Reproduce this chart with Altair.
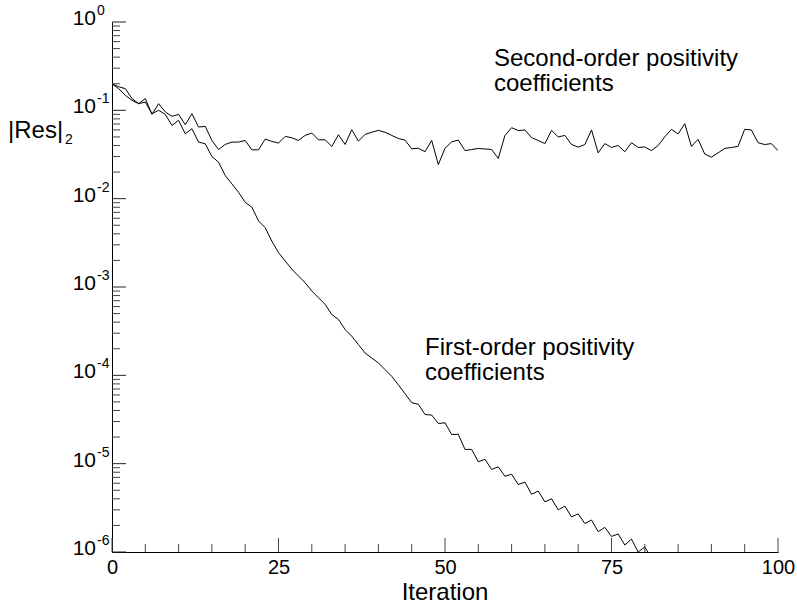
import altair as alt
import pandas as pd

# ---------------- data ----------------
ITER_SECOND = list(range(0, 101))
SECOND_ORDER = [
    0.200, 0.185, 0.176, 0.136, 0.119, 0.136, 0.090, 0.119, 0.096, 0.0855,
    0.090, 0.0687, 0.0916, 0.0647, 0.0658, 0.0456, 0.0360, 0.0411, 0.0437, 0.0437,
    0.0456, 0.0357, 0.0357, 0.0472, 0.0445, 0.0426, 0.0507, 0.0489, 0.0456, 0.0520,
    0.0553, 0.0464, 0.0464, 0.0390, 0.0529, 0.0411, 0.0603, 0.0448, 0.0534, 0.0565,
    0.0593, 0.0565, 0.052, 0.048, 0.046, 0.0367, 0.0372, 0.034, 0.0456, 0.0243,
    0.0372, 0.044, 0.046, 0.035, 0.036, 0.037, 0.0365, 0.036, 0.0285, 0.052,
    0.0636, 0.059, 0.060, 0.049, 0.0456, 0.042, 0.0593, 0.050, 0.052, 0.041,
    0.0383, 0.041, 0.060, 0.033, 0.042, 0.038, 0.040, 0.034, 0.043, 0.038,
    0.0385, 0.035, 0.040, 0.050, 0.061, 0.054, 0.0706, 0.039, 0.047, 0.032,
    0.0295, 0.033, 0.037, 0.038, 0.039, 0.061, 0.060, 0.043, 0.041, 0.042,
    0.035,
]

ITER_FIRST = list(range(0, 82))
FIRST_ORDER = [
    0.200, 0.176, 0.148, 0.130, 0.119, 0.124, 0.0916, 0.100, 0.090, 0.0676,
    0.077, 0.0543, 0.0619, 0.0437, 0.0418, 0.0300, 0.0259, 0.0183, 0.0147, 0.0118,
    0.0091, 0.0080, 0.0056, 0.0047, 0.0033, 0.00245, 0.00197, 0.00159, 0.00133, 0.00112,
    0.00090, 0.000757, 0.000636, 0.000489, 0.000429, 0.000330, 0.000277, 0.000223, 0.000179, 0.000157,
    0.000138, 0.000116, 0.0000975, 0.0000780, 0.0000620, 0.0000490, 0.0000470, 0.0000360, 0.0000355, 0.0000285,
    0.0000290, 0.0000214, 0.0000215, 0.0000145, 0.0000145, 0.0000105, 0.0000112, 0.0000086, 0.0000092, 0.0000072,
    0.0000076, 0.0000058, 0.0000062, 0.0000045, 0.0000049, 0.0000037, 0.0000040, 0.0000030, 0.0000033, 0.0000025,
    0.0000027, 0.0000021, 0.0000023, 0.0000017, 0.0000019, 0.0000015, 0.0000016, 0.0000012, 0.0000014, 0.0000010,
    0.00000114, 0.00000085,
]

X_LABELS = [0, 25, 50, 75, 100]
X_MINOR = [5, 10, 15, 20, 30, 35, 40, 45, 55, 60, 65, 70, 80, 85, 90, 95]
Y_EXPONENTS = [0, -1, -2, -3, -4, -5, -6]
Y_MINOR_MULT = [2, 3, 4, 5, 6, 7, 8, 9]

SECOND_LABEL = ["Second-order positivity", "coefficients"]
FIRST_LABEL = ["First-order positivity", "coefficients"]
X_TITLE = "Iteration"
Y_TITLE = "|Res|"
Y_TITLE_SUB = "2"

# ---------------- layout ----------------
FONT = "Liberation Sans"
W, H = 666, 530

lines_df = pd.concat([
    pd.DataFrame({"iter": ITER_SECOND, "res": SECOND_ORDER, "series": "second"}),
    pd.DataFrame({"iter": ITER_FIRST, "res": FIRST_ORDER, "series": "first"}),
])

xs = alt.Scale(domain=[0, 100], nice=False, zero=False)
ys = alt.Scale(type="log", domain=[1e-6, 1], nice=False)

XAXIS = alt.Axis(values=X_LABELS, ticks=False, grid=False, labelFont=FONT,
                 labelFontSize=20, labelColor="black", labelPadding=5,
                 domainColor="black", domainWidth=1, title=None,
                 labelFlush=False, labelOverlap=False)
YAXIS = alt.Axis(labels=False, ticks=False, grid=False, domainColor="black",
                 domainWidth=1, title=None)

lines = alt.Chart(lines_df).mark_line(color="black", strokeWidth=1, clip=True).encode(
    x=alt.X("iter:Q", scale=xs, axis=XAXIS),
    y=alt.Y("res:Q", scale=ys, axis=YAXIS),
    detail="series:N",
)

x_major = alt.Chart(pd.DataFrame({"v": X_LABELS})).mark_rule(color="#444", strokeWidth=1).encode(
    x=alt.X("v:Q", scale=xs, axis=XAXIS), y=alt.value(H), y2=alt.value(H - 14))
x_minor = alt.Chart(pd.DataFrame({"v": X_MINOR})).mark_rule(color="#444", strokeWidth=1).encode(
    x=alt.X("v:Q", scale=xs, axis=XAXIS), y=alt.value(H), y2=alt.value(H - 8))

y_major_vals = [10.0 ** e for e in Y_EXPONENTS]
y_minor_vals = [m * 10.0 ** e for e in Y_EXPONENTS[1:] for m in Y_MINOR_MULT]

y_major = alt.Chart(pd.DataFrame({"v": y_major_vals})).mark_rule(color="#222", strokeWidth=1).encode(
    y=alt.Y("v:Q", scale=ys, axis=YAXIS), x=alt.value(0), x2=alt.value(14))
y_minor = alt.Chart(pd.DataFrame({"v": y_minor_vals})).mark_rule(color="#444", strokeWidth=1).encode(
    y=alt.Y("v:Q", scale=ys, axis=YAXIS), x=alt.value(0), x2=alt.value(8))

ylab_df = pd.DataFrame({
    "v": y_major_vals,
    "base": ["10"] * len(Y_EXPONENTS),
    "exp": [str(e) for e in Y_EXPONENTS],
})
ylab_base = alt.Chart(ylab_df).mark_text(
    align="right", baseline="alphabetic", font=FONT, fontSize=21, color="black", dy=3).encode(
    y=alt.Y("v:Q", scale=ys, axis=YAXIS), x=alt.value(-16), text="base:N")
ylab_exp = alt.Chart(ylab_df).mark_text(
    align="left", baseline="alphabetic", font=FONT, fontSize=14, color="black", dy=-7).encode(
    y=alt.Y("v:Q", scale=ys, axis=YAXIS), x=alt.value(-15), text="exp:N")


def label(text, x, y, size, align="left"):
    return alt.Chart(pd.DataFrame({"t": [text]})).mark_text(
        align=align, baseline="alphabetic", font=FONT, fontSize=size, color="black").encode(
        x=alt.value(x), y=alt.value(y), text="t:N")


annots = [
    label(SECOND_LABEL[0], 382, 44, 24),
    label(SECOND_LABEL[1], 382, 69, 24),
    label(FIRST_LABEL[0], 313, 333, 24),
    label(FIRST_LABEL[1], 313, 358, 24),
    label(X_TITLE, W / 2, H + 48, 24, align="center"),
    label(Y_TITLE, -104, 116, 24),
    label(Y_TITLE_SUB, -47, 122, 14),
]

chart = alt.layer(
    lines, x_major, x_minor, y_major, y_minor, ylab_base, ylab_exp, *annots
).properties(
    width=W, height=H,
    padding={"left": 112, "top": 22, "right": 19, "bottom": 53},
    autosize=alt.AutoSizeParams(type="none"),
    background="white",
).configure_view(stroke=None)

chart.save("out.html", embed_options={"renderer": "svg", "actions": False})
